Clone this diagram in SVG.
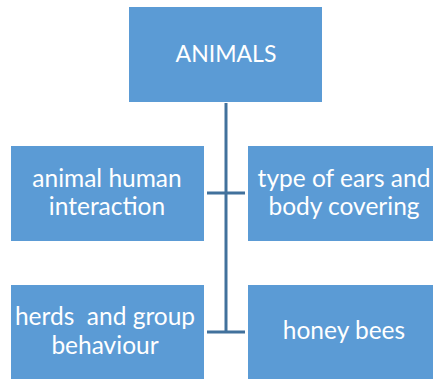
<svg xmlns="http://www.w3.org/2000/svg" width="433" height="379" viewBox="0 0 433 379">
<style>
.box{fill:#5B9BD5}
.t{font-family:Lato,"Open Sans","Liberation Sans",sans-serif;font-size:24.5px;fill:#FFFFFF;text-anchor:middle;white-space:pre}
.h{font-size:23px}
.c{stroke:#41719C;stroke-width:3;fill:none}
</style>
<g id="connectors">
<path class="c" d="M226,103 V332"/>
<path class="c" d="M207,193 H245"/>
<path class="c" d="M207,332 H245"/>
</g>
<g id="animals">
<rect class="box" x="129" y="7" width="193" height="95"/>
<text class="t h" x="226" y="62">ANIMALS</text>
</g>
<g id="animal-human">
<rect class="box" x="11" y="146" width="193" height="95"/>
<text class="t" x="107" y="186.5">animal human</text>
<text class="t" x="107" y="215">interaction</text>
</g>
<g id="ears-body">
<rect class="box" x="248" y="146" width="193" height="95"/>
<text class="t" x="344" y="186.5">type of ears and</text>
<text class="t" x="344" y="215">body covering</text>
</g>
<g id="herds">
<rect class="box" x="11" y="285" width="193" height="95"/>
<text class="t" x="105" y="324.5" xml:space="preserve">herds  and group</text>
<text class="t" x="105" y="353.5">behaviour</text>
</g>
<g id="honey-bees">
<rect class="box" x="248" y="285" width="193" height="95"/>
<text class="t" x="344" y="339">honey bees</text>
</g>
</svg>
